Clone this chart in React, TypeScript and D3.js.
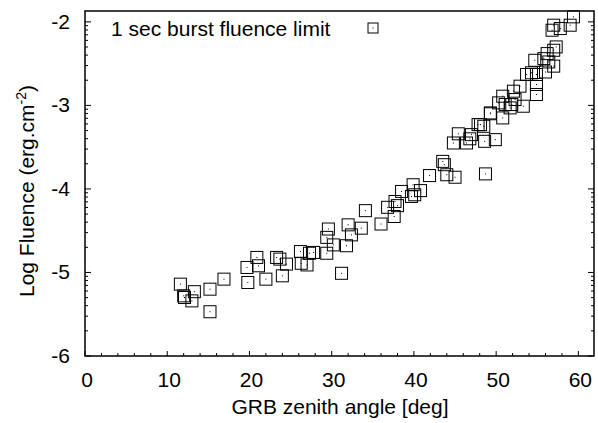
import React from "react";
import * as d3 from "d3";

const zenith = [
  11.6, 12.0, 12.1, 13.3, 13.0, 15.2, 15.2, 16.9, 19.7, 19.8, 20.9, 21.1, 22.0, 23.3, 23.7, 24.0, 24.5,
  26.2, 26.3, 27.0, 27.3, 27.8, 29.4, 30.2, 31.2, 31.8, 29.6, 29.4, 32.0, 33.6, 32.4, 34.1, 36.0, 36.8,
  37.6, 38.0, 38.5, 37.7, 39.9, 40.1, 40.8, 39.7, 41.9, 43.5, 43.7, 44.0, 45.0, 48.7, 45.4, 44.8, 46.4,
  46.8, 47.0, 48.1, 48.6, 49.9, 49.3, 50.3, 57.0, 59.4, 59.0, 57.8, 56.8, 57.3, 57.0, 56.2, 55.8, 56.4,
  57.0, 54.7, 56.0, 53.7, 54.9, 54.3, 54.9, 54.9, 52.9, 52.1, 53.3, 52.3, 51.9, 51.1, 51.7, 50.8, 49.3,
  50.8, 47.8, 48.5,
];
const fluence = [
  -5.14, -5.28, -5.3, -5.23, -5.34, -5.2, -5.47, -5.08, -4.94, -5.12, -4.82, -4.92, -5.08, -4.82, -4.84,
  -5.04, -4.9, -4.75, -4.89, -4.91, -4.77, -4.76, -4.77, -4.67, -5.01, -4.68, -4.48, -4.58, -4.43, -4.47,
  -4.55, -4.26, -4.42, -4.22, -4.33, -4.2, -4.03, -4.15, -3.95, -4.07, -4.02, -4.09, -3.84, -3.67, -3.71,
  -3.83, -3.86, -3.82, -3.34, -3.45, -3.45, -3.4, -3.35, -3.23, -3.43, -3.41, -3.1, -2.97, -2.04, -1.94,
  -2.04, -2.08, -2.1, -2.3, -2.34, -2.38, -2.44, -2.48, -2.53, -2.46, -2.6, -2.63, -2.63, -2.61, -2.75,
  -2.87, -2.77, -2.83, -3.01, -2.93, -2.99, -2.99, -3.03, -2.89, -3.09, -3.15, -3.23, -3.25,
];
const xTicks = [0, 10, 20, 30, 40, 50, 60];
const yTicks = [-6, -5, -4, -3, -2];
const legendLabel = "1 sec burst fluence limit";

const W = 598, H = 423;
const L = 85, R = 594, T = 11, B = 356;
const FONT = "Liberation Sans, Arial, sans-serif";
const FS = 21;

export default function App() {
  const x = d3.scaleLinear().domain([0, 61.9]).range([L, R]);
  const y = d3.scaleLinear().domain([-6, -1.87]).range([B, T]);
  const xMinor = d3.range(0, 62, 2).filter((v) => v % 10 !== 0);
  const yMinor: number[] = [];
  for (let d = -6; d <= -3; d++) for (let k = 2; k <= 9; k++) {
    const v = d + Math.log10(k);
    if (v < -1.87) yMinor.push(v);
  }
  const sq = 12;
  const pts = zenith.map((z, i) => [x(z), y(fluence[i])]);
  return (
    <svg width={W} height={H} style={{ position: "absolute", left: 0, top: 0, background: "#fff" }}
      fontFamily={FONT}>
      <rect x={0} y={0} width={W} height={H} fill="#fff" />
      {xTicks.map((t) => (
        <line key={"xm" + t} x1={x(t)} x2={x(t)} y1={B} y2={B - 5} stroke="#000" strokeWidth={1} />
      ))}
      {xMinor.map((t) => (
        <line key={"xn" + t} x1={x(t)} x2={x(t)} y1={B} y2={B - 3} stroke="#000" strokeWidth={1} />
      ))}
      {yTicks.map((t) => (
        <g key={"ym" + t}>
          <line x1={L} x2={L + 6} y1={y(t)} y2={y(t)} stroke="#000" strokeWidth={1} />
          <line x1={R} x2={R - 6} y1={y(t)} y2={y(t)} stroke="#000" strokeWidth={1} />
        </g>
      ))}
      {yMinor.map((t, i) => (
        <g key={"yn" + i}>
          <line x1={L} x2={L + 3} y1={y(t)} y2={y(t)} stroke="#000" strokeWidth={1} />
          <line x1={R} x2={R - 3} y1={y(t)} y2={y(t)} stroke="#000" strokeWidth={1} />
        </g>
      ))}
      {pts.map(([px, py], i) => (
        <g key={"p" + i}>
          <rect x={px - sq / 2} y={py - sq / 2} width={sq} height={sq} fill="none" stroke="#000" strokeWidth={1} />
          <rect x={px - 0.5} y={py - 0.5} width={1} height={1} fill="#000" />
        </g>
      ))}
      <rect x={L} y={T} width={R - L} height={B - T} fill="none" stroke="#000" strokeWidth={1.5} />
      {xTicks.map((t) => (
        <text key={"xl" + t} x={x(t) + 2} y={387} fontSize={FS} textAnchor="middle" fill="#000">{t}</text>
      ))}
      {yTicks.map((t) => (
        <text key={"yl" + t} x={70} y={y(t) + 7} fontSize={FS} textAnchor="end" fill="#000">{t}</text>
      ))}
      <text x={340} y={414} fontSize={FS} textAnchor="middle" fill="#000">GRB zenith angle [deg]</text>
      <text transform={`translate(34,191) rotate(-90)`} fontSize={FS} textAnchor="middle" fill="#000">
        Log Fluence (erg.cm<tspan dy={-8} fontSize={14}>-2</tspan><tspan dy={8}>)</tspan>
      </text>
      <text x={111} y={36} fontSize={FS} fill="#000">{legendLabel}</text>
      <rect x={368} y={23} width={10} height={10} fill="none" stroke="#000" strokeWidth={1} />
      <rect x={372.5} y={27.5} width={1} height={1} fill="#000" />
    </svg>
  );
}
